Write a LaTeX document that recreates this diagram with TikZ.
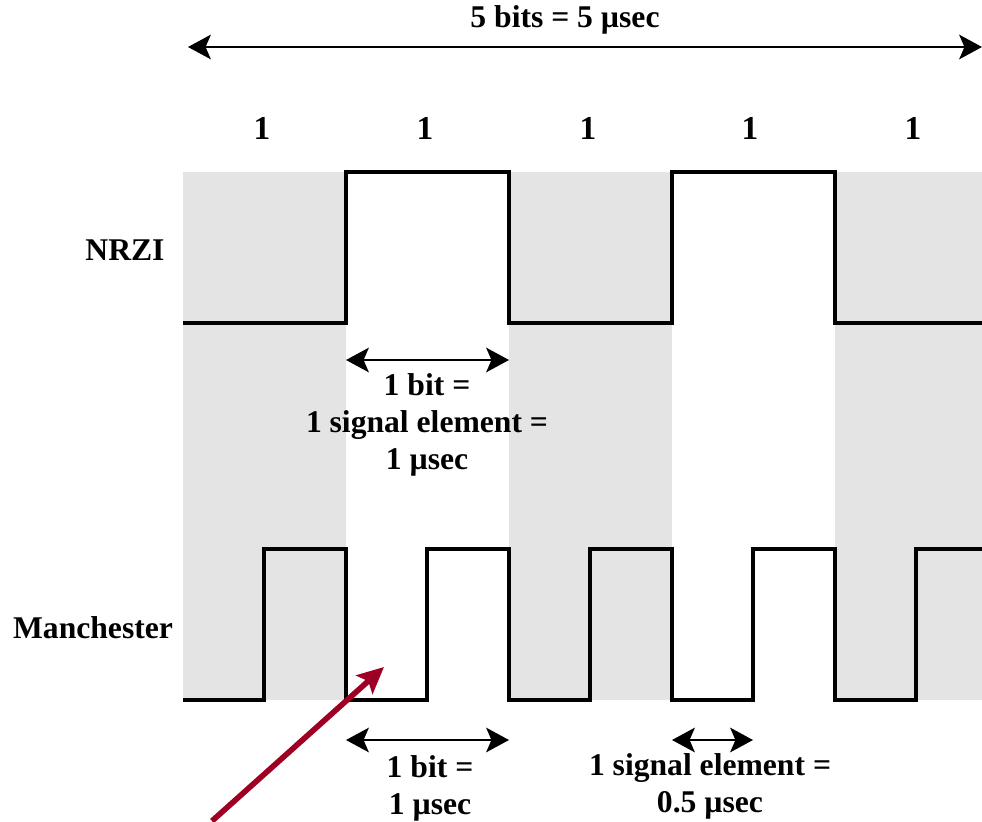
\documentclass[tikz,border=0pt]{standalone}
\usepackage{fontspec}
\setmainfont{Liberation Serif}
\usetikzlibrary{arrows.meta}
\definecolor{bandgray}{RGB}{228,228,228}
\definecolor{pointred}{RGB}{158,0,36}

\begin{document}
\begin{tikzpicture}[x=0.02cm,y=-0.02cm,
  font=\fontsize{18}{21}\selectfont\bfseries,
  signal/.style={black,line width=2.3pt,line join=miter},
  dimarrow/.style={{Stealth[length=13pt,width=14pt,inset=3pt]}-{Stealth[length=13pt,width=14pt,inset=3pt]},line width=1.1pt},
  pointer/.style={pointred,line width=3.2pt,-{Stealth[length=15pt,width=14pt,inset=3pt]}}]
\useasboundingbox (0,0) rectangle (982,821);
\foreach \x in {183,509,835} {
 \fill[bandgray] (\x,172) rectangle ({min(\x+163,982)},700);
}
\coordinate (tl) at (188,47);
\coordinate (tr) at (982,47);
\draw[dimarrow] (tl)--(tr);
\node (total) at (565,20) {5 bits = 5 µsec};
\foreach \x [count=\i] in {262,425,588,750,913} {
 \node[font=\fontsize{19}{21}\selectfont\bfseries] (bit\i) at (\x,128) {1};
}
\node (nrzi) at (125,250) {NRZI};
\node (manch) at (93,628) {Manchester};
\draw[signal] (183,323)--(346,323)--(346,172)--(509,172)--(509,323)--(672,323)--(672,172)--(835,172)--(835,323)--(982,323);
\draw[signal] (183,700)--(264,700)--(264,549)--(346,549)--(346,700)--(427,700)--(427,549)--(509,549)--(509,700)--(590,700)--(590,549)--(672,549)--(672,700)--(753,700)--(753,549)--(835,549)--(835,700)--(916,700)--(916,549)--(982,549);
\coordinate (a1) at (346,360);
\coordinate (a2) at (509,360);
\draw[dimarrow] (a1)--(a2);
\node[align=center] (nrzibit) at (427,425) {1 bit =\\1 signal element =\\1 µsec};
\coordinate (m1) at (346,740);
\coordinate (m2) at (509,740);
\draw[dimarrow] (m1)--(m2);
\node[align=center] (manbit) at (430,788) {1 bit =\\1 µsec};
\coordinate (e1) at (672,740);
\coordinate (e2) at (753,740);
\draw[dimarrow] (e1)--(e2);
\node[align=center] (manelem) at (710,786) {1 signal element =\\0.5 µsec};
\coordinate (ptail) at (212,821);
\coordinate (phead) at (384,667);
\draw[pointer] (ptail)--(phead);
\end{tikzpicture}
\end{document}
